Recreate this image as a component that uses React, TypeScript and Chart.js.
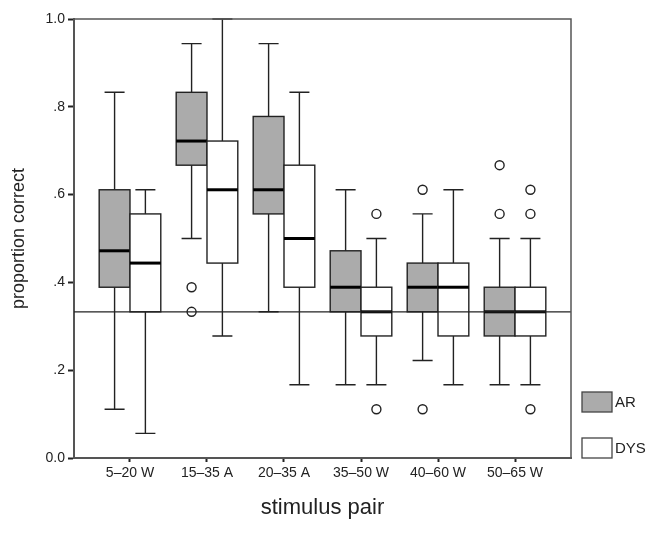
import React, { useEffect, useRef } from 'react';
import { Chart, registerables } from 'chart.js';

Chart.register(...registerables);

const categories = ['5–20 W', '15–35 A', '20–35 A', '35–50 W', '40–60 W', '50–65 W'];
const seriesNames = ['AR', 'DYS'];

const arMin = [0.111, 0.5, 0.333, 0.167, 0.222, 0.167];
const arQ1 = [0.389, 0.667, 0.556, 0.333, 0.333, 0.278];
const arMedian = [0.472, 0.722, 0.611, 0.389, 0.389, 0.333];
const arQ3 = [0.611, 0.833, 0.778, 0.472, 0.444, 0.389];
const arMax = [0.833, 0.944, 0.944, 0.611, 0.556, 0.5];
const arOutliers = [[], [0.389, 0.333], [], [], [0.611, 0.111], [0.556, 0.667]];

const dysMin = [0.056, 0.278, 0.167, 0.167, 0.167, 0.167];
const dysQ1 = [0.333, 0.444, 0.389, 0.278, 0.278, 0.278];
const dysMedian = [0.444, 0.611, 0.5, 0.333, 0.389, 0.333];
const dysQ3 = [0.556, 0.722, 0.667, 0.389, 0.444, 0.389];
const dysMax = [0.611, 1.0, 0.833, 0.5, 0.611, 0.5];
const dysOutliers = [[], [], [], [0.556, 0.111], [], [0.611, 0.556, 0.111]];

const chanceLevel = 0.333;
const yTicks = [0, 0.2, 0.4, 0.6, 0.8, 1.0];

const AR_FILL = '#ababab';
const DYS_FILL = '#ffffff';
const INK = '#222';
const FONT = "'Liberation Sans', Arial, Helvetica, sans-serif";

const BOX_W = 0.4;
const CAP_W = 0.26;

export default function App() {
  const ref = useRef<HTMLCanvasElement>(null);

  useEffect(() => {
    document.body.style.margin = '0';
    const canvas = ref.current;
    if (!canvas) return;

    const series = [
      { offset: -BOX_W / 2, fill: AR_FILL, min: arMin, q1: arQ1, med: arMedian, q3: arQ3, max: arMax },
      { offset: BOX_W / 2, fill: DYS_FILL, min: dysMin, q1: dysQ1, med: dysMedian, q3: dysQ3, max: dysMax },
    ];

    const boxPlugin = {
      id: 'boxes',
      beforeDatasetsDraw(chart: any) {
        const { ctx, scales } = chart;
        const x = scales.x;
        const y = scales.y;
        ctx.save();
        series.forEach((s) => {
          categories.forEach((_, i) => {
            const c = i + s.offset;
            const xl = x.getPixelForValue(c - BOX_W / 2);
            const xr = x.getPixelForValue(c + BOX_W / 2);
            const xc = x.getPixelForValue(c);
            const cl = x.getPixelForValue(c - CAP_W / 2);
            const cr = x.getPixelForValue(c + CAP_W / 2);
            const yMin = y.getPixelForValue(s.min[i]);
            const yQ1 = y.getPixelForValue(s.q1[i]);
            const yMed = y.getPixelForValue(s.med[i]);
            const yQ3 = y.getPixelForValue(s.q3[i]);
            const yMax = y.getPixelForValue(s.max[i]);
            ctx.strokeStyle = INK;
            ctx.lineWidth = 1.4;
            ctx.beginPath();
            ctx.moveTo(xc, yQ3);
            ctx.lineTo(xc, yMax);
            ctx.moveTo(xc, yQ1);
            ctx.lineTo(xc, yMin);
            ctx.moveTo(cl, yMax);
            ctx.lineTo(cr, yMax);
            ctx.moveTo(cl, yMin);
            ctx.lineTo(cr, yMin);
            ctx.stroke();
            ctx.fillStyle = s.fill;
            ctx.fillRect(xl, yQ3, xr - xl, yQ1 - yQ3);
            ctx.strokeRect(xl, yQ3, xr - xl, yQ1 - yQ3);
            ctx.strokeStyle = '#000';
            ctx.lineWidth = 3;
            ctx.beginPath();
            ctx.moveTo(xl, yMed);
            ctx.lineTo(xr, yMed);
            ctx.stroke();
          });
        });
        ctx.restore();
      },
      afterDatasetsDraw(chart: any) {
        const { ctx, scales, chartArea } = chart;
        const y = scales.y;
        ctx.save();
        const yc = y.getPixelForValue(chanceLevel);
        ctx.strokeStyle = INK;
        ctx.lineWidth = 1.2;
        ctx.beginPath();
        ctx.moveTo(chartArea.left, yc);
        ctx.lineTo(chartArea.right, yc);
        ctx.stroke();
        ctx.strokeStyle = '#555';
        ctx.lineWidth = 1.5;
        ctx.beginPath();
        ctx.moveTo(chartArea.left, chartArea.top);
        ctx.lineTo(chartArea.right, chartArea.top);
        ctx.lineTo(chartArea.right, chartArea.bottom);
        ctx.stroke();
        const lx = chartArea.right + 11;
        const fills = [AR_FILL, DYS_FILL];
        const tops = [chartArea.bottom - 66, chartArea.bottom - 20];
        ctx.font = `15px ${FONT}`;
        ctx.textBaseline = 'middle';
        ctx.textAlign = 'left';
        seriesNames.forEach((name, k) => {
          ctx.fillStyle = fills[k];
          ctx.fillRect(lx, tops[k], 30, 20);
          ctx.strokeStyle = '#444';
          ctx.lineWidth = 1.3;
          ctx.strokeRect(lx, tops[k], 30, 20);
          ctx.fillStyle = INK;
          ctx.fillText(name, lx + 33, tops[k] + 11);
        });
        ctx.restore();
      },
    };

    const outlierPoints = (outs: number[][], off: number) =>
      outs.flatMap((vals, i) => vals.map((v) => ({ x: i + off, y: v })));

    const chart = new Chart(canvas, {
      type: 'scatter',
      data: {
        datasets: [
          {
            label: seriesNames[0] + ' outliers',
            data: outlierPoints(arOutliers, -BOX_W / 2),
            pointStyle: 'circle',
            pointRadius: 4.5,
            borderColor: INK,
            borderWidth: 1.4,
            backgroundColor: '#fff',
          },
          {
            label: seriesNames[1] + ' outliers',
            data: outlierPoints(dysOutliers, BOX_W / 2),
            pointStyle: 'circle',
            pointRadius: 4.5,
            borderColor: INK,
            borderWidth: 1.4,
            backgroundColor: '#fff',
          },
        ],
      },
      options: {
        animation: false,
        responsive: true,
        maintainAspectRatio: false,
        layout: { padding: { top: 19, right: 76, left: 0, bottom: 0 } },
        plugins: { legend: { display: false }, tooltip: { enabled: false } },
        scales: {
          x: {
            type: 'linear',
            min: -0.727,
            max: 5.727,
            afterBuildTicks: (scale: any) => {
              scale.ticks = categories.map((_, i) => ({ value: i }));
            },
            afterFit: (scale: any) => {
              scale.height = 82;
            },
            ticks: {
              autoSkip: false,
              maxRotation: 0,
              padding: 3,
              color: INK,
              font: { family: FONT, size: 14 },
              callback: (v: any) => categories[Math.round(v)] ?? '',
            },
            grid: { drawOnChartArea: false, drawTicks: true, tickLength: 4, tickColor: '#222', tickWidth: 2 },
            border: { color: '#555', width: 2 },
            title: {
              display: true,
              text: 'stimulus pair',
              color: INK,
              font: { family: FONT, size: 22 },
              padding: { top: 0, bottom: 19 },
            },
          },
          y: {
            type: 'linear',
            min: 0,
            max: 1,
            afterBuildTicks: (scale: any) => {
              scale.ticks = yTicks.map((v) => ({ value: v }));
            },
            afterFit: (scale: any) => {
              scale.width = 74;
            },
            ticks: {
              padding: 3,
              color: INK,
              font: { family: FONT, size: 14 },
              callback: (v: any) => (v === 0 ? '0.0' : v >= 1 ? '1.0' : '.' + Math.round(v * 10)),
            },
            grid: { drawOnChartArea: false, drawTicks: true, tickLength: 6, tickColor: '#222', tickWidth: 2 },
            border: { color: '#555', width: 2 },
            title: {
              display: true,
              text: 'proportion correct',
              color: INK,
              font: { family: FONT, size: 18 },
              padding: { top: 8, bottom: 0 },
            },
          },
        },
      },
      plugins: [boxPlugin],
    } as any);

    return () => chart.destroy();
  }, []);

  return (
    <div style={{ width: 647, height: 540, position: 'relative' }}>
      <canvas ref={ref} />
    </div>
  );
}
